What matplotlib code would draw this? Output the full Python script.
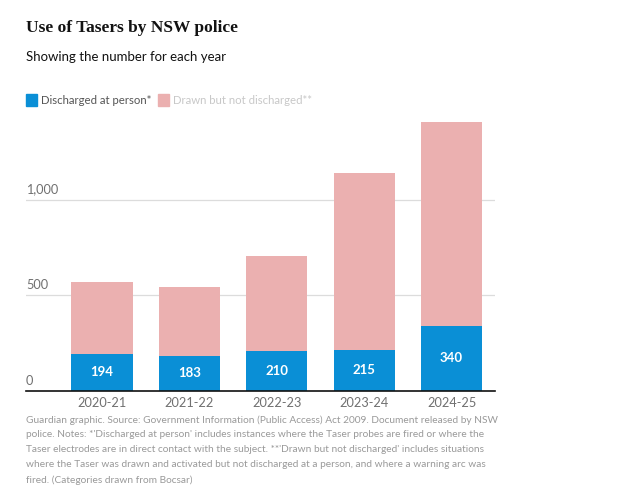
import matplotlib
matplotlib.use("Agg")
import matplotlib.pyplot as plt
import numpy as np
from matplotlib.patches import Rectangle

years = ["2020-21", "2021-22", "2022-23", "2023-24", "2024-25"]
discharged = [194, 183, 210, 215, 340]
drawn_not_discharged = [375, 360, 495, 925, 1065]
yticks = [0, 500, 1000]
ytick_labels = ["0", "500", "1,000"]

BLUE = "#0a8fd6"
PINK = "#ebb0b0"
W, H = 634, 503
SANS = ["Lato", "DejaVu Sans"]

plt.rcParams['font.family'] = SANS

fig = plt.figure(figsize=(W / 100, H / 100), dpi=100)
fig.patch.set_facecolor("white")

def fx(px):
    return px / W

def fy(py):
    return 1 - py / H

ax = fig.add_axes([fx(26), fy(391), fx(495) - fx(26), (391 - 119) / H])
x = np.arange(len(years))
ax.bar(x, discharged, width=0.70, color=BLUE, zorder=3)
ax.bar(x, drawn_not_discharged, width=0.70, bottom=discharged, color=PINK, zorder=3)
ax.set_xlim(-0.87, 4.497)
ymax = (391 - 119) / 0.1915
ax.set_ylim(0, ymax)

for xi, v in zip(x, discharged):
    ax.text(xi, v / 2, str(v), ha="center", va="center", color="white",
            fontsize=9.5, fontweight="bold", zorder=4)

for s in ["top", "right", "left"]:
    ax.spines[s].set_visible(False)
ax.spines["bottom"].set_color("#111111")
ax.spines["bottom"].set_linewidth(1.2)
ax.spines["bottom"].set_zorder(5)

ax.set_yticks(yticks)
ax.set_yticklabels([])
ax.tick_params(axis="y", length=0)
for t in yticks[1:]:
    ax.axhline(t, color="#dcdcdc", linewidth=0.9, zorder=1)
for t, lab in zip(yticks, ytick_labels):
    ax.text(-0.87, t + 22, lab, ha="left", va="bottom", color="#707070", fontsize=9.2)

ax.set_xticks(x)
ax.set_xticklabels(years, color="#707070", fontsize=9.2)
ax.tick_params(axis="x", length=0, pad=4)

fig.text(fx(26), fy(28), "Use of Tasers by NSW police", ha="left", va="center",
         fontsize=12.5, fontweight="bold", color="#121212", family=["Liberation Serif", "DejaVu Serif"])
fig.text(fx(26), fy(57), "Showing the number for each year", ha="left", va="center",
         fontsize=9.5, color="#121212")

fig.patches.append(Rectangle((fx(26), fy(106)), fx(11), 12 / H, transform=fig.transFigure,
                             color=BLUE, figure=fig))
fig.text(fx(41), fy(100), "Discharged at person*", ha="left", va="center",
         fontsize=8.2, color="#555555")
fig.patches.append(Rectangle((fx(158), fy(106)), fx(11), 12 / H, transform=fig.transFigure,
                             color=PINK, figure=fig))
fig.text(fx(173), fy(100), "Drawn but not discharged**", ha="left", va="center",
         fontsize=8.2, color="#c8c8c8")

footer = ("Guardian graphic. Source: Government Information (Public Access) Act 2009. Document released by NSW\n"
          "police. Notes: *'Discharged at person' includes instances where the Taser probes are fired or where the\n"
          "Taser electrodes are in direct contact with the subject. **'Drawn but not discharged' includes situations\n"
          "where the Taser was drawn and activated but not discharged at a person, and where a warning arc was\n"
          "fired. (Categories drawn from Bocsar)")
fig.text(fx(26), fy(415), footer, ha="left", va="top", fontsize=7.3, color="#999999",
         linespacing=1.85)

fig.savefig("out.png", dpi=100, facecolor="white")
